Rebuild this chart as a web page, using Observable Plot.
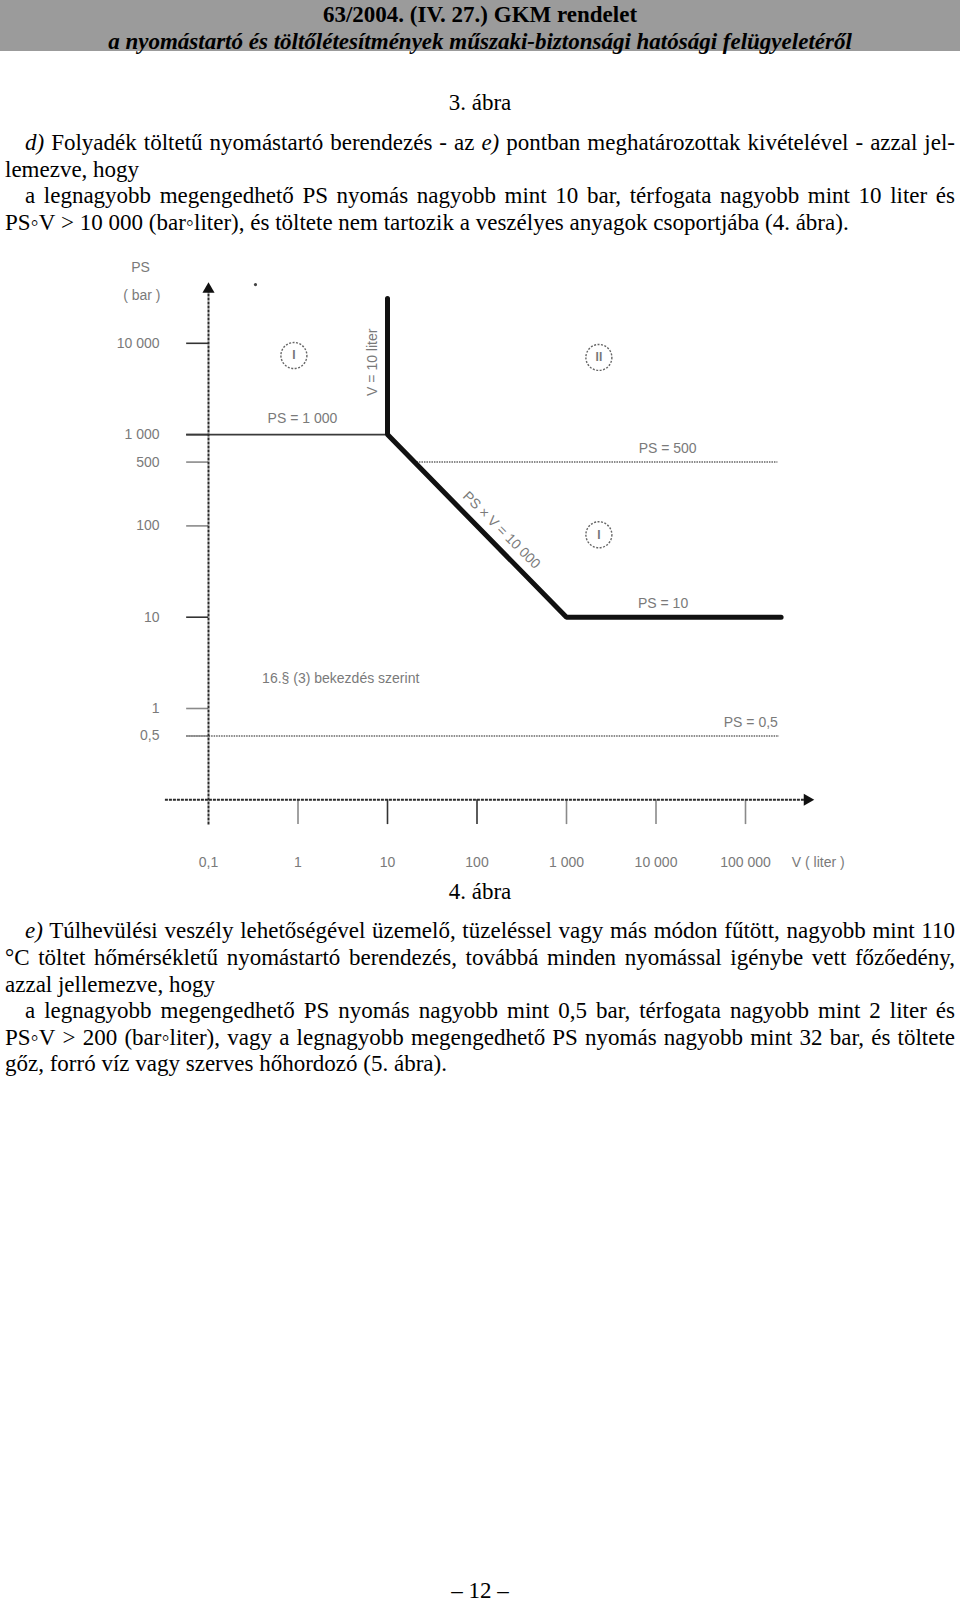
<!DOCTYPE html>
<html><head><meta charset="utf-8">
<script src="https://cdn.jsdelivr.net/npm/d3@7"></script>
<script src="https://cdn.jsdelivr.net/npm/@observablehq/plot@0.6"></script>
<style>
html,body{margin:0;padding:0;background:#fff}
body{width:960px;height:1601px;position:relative;overflow:hidden;font-family:"Liberation Serif","Times New Roman",serif;color:#000}
.band{position:absolute;left:0;top:0;width:960px;height:51px;background:#9b9b9b}
.h{position:absolute;left:0;width:960px;text-align:center;font-weight:bold;font-size:23px;line-height:26px;white-space:nowrap}
.c{position:absolute;left:0;width:960px;text-align:center;font-size:23px;line-height:26px}
.ln{position:absolute;left:5px;width:950px;font-size:23px;line-height:26px;white-space:nowrap;box-sizing:border-box}
.j{text-align:justify;text-align-last:justify}
.ind{padding-left:20px}
.nb{display:inline-block}
#chart{position:absolute;left:0;top:240px}
</style></head><body>
<div class="band"></div>
<div class="h" style="top:2px">63/2004. (IV. 27.) GKM rendelet</div>
<div class="h" style="top:29px;font-style:italic">a nyomástartó és töltőlétesítmények műszaki-biztonsági hatósági felügyeletéről</div>
<div class="c" style="top:90px">3. ábra</div>
<div class="ln j ind" style="top:130px"><i>d)</i> Folyadék töltetű nyomástartó berendezés - az <i>e)</i> pontban meghatározottak kivételével - azzal jel-</div>
<div class="ln" style="top:156.5px">lemezve, hogy</div>
<div class="ln j ind" style="top:183px">a legnagyobb megengedhető PS nyomás nagyobb mint 10 bar, térfogata nagyobb mint 10 liter és</div>
<div class="ln" style="top:209.6px"><span class="nb">PS◦V</span> &gt; 10 000 <span class="nb">(bar◦liter),</span> és töltete nem tartozik a veszélyes anyagok csoportjába (4. ábra).</div>
<div id="chart"></div>
<div class="c" style="top:878.6px">4. ábra</div>
<div class="ln j ind" style="top:918.4px"><i>e)</i> Túlhevülési veszély lehetőségével üzemelő, tüzeléssel vagy más módon fűtött, nagyobb mint 110</div>
<div class="ln j" style="top:945px">°C töltet hőmérsékletű nyomástartó berendezés, továbbá minden nyomással igénybe vett főzőedény,</div>
<div class="ln" style="top:971.5px">azzal jellemezve, hogy</div>
<div class="ln j ind" style="top:998px">a legnagyobb megengedhető PS nyomás nagyobb mint 0,5 bar, térfogata nagyobb mint 2 liter és</div>
<div class="ln j" style="top:1024.7px"><span class="nb">PS◦V</span> &gt; 200 <span class="nb">(bar◦liter),</span> vagy a legnagyobb megengedhető PS nyomás nagyobb mint 32 bar, és töltete</div>
<div class="ln" style="top:1051px">gőz, forró víz vagy szerves hőhordozó (5. ábra).</div>
<div class="c" style="top:1578px">– 12 –</div>
<script>
// ---- data (V in liter, PS in bar) ----
const xTicks = [0.1, 1, 10, 100, 1000, 10000, 100000];
const xTickLabels = ["0,1", "1", "10", "100", "1 000", "10 000", "100 000"];
const yTicks = [0.5, 1, 10, 100, 500, 1000, 10000];
const yTickLabels = ["0,5", "1", "10", "100", "500", "1 000", "10 000"];

// thick boundary: V = 10 liter, PS x V = 10 000, PS = 10
const boundaryV  = [10, 10, 1000, 250000];
const boundaryPS = [31000, 1000, 10, 10];

// reference levels
const levelPS    = [1000, 500, 0.5];
const levelFromV = [0.057, 20, 0.057];
const levelToV   = [10, 230000, 240000];

// axes extents
const xAxisV  = [0.033, 490000];
const yAxisPS = [0.053, 39000];

// category regions (circled numerals)
const regionLabels = ["I", "II", "I"];
const regionV  = [0.9, 2300, 2300];
const regionPS = [7350, 7000, 80];

// annotation texts
const annotationText = ["PS = 1 000", "PS = 500", "PS = 10", "16.§ (3) bekezdés szerint", "PS", "( bar )"];
const annotationV  = [1.12, 13500, 12000, 3, 0.0174, 0.018];
const annotationPS = [1500, 700, 14.2, 2.14, 67000, 33500];

// ---- build tables ----
const boundary = boundaryV.map((v, i) => ({v, ps: boundaryPS[i]}));
const levels = levelPS.map((ps, i) => ({ps, v1: levelFromV[i], v2: levelToV[i]}));
const regions = regionLabels.map((t, i) => ({t, v: regionV[i], ps: regionPS[i]}));
const annotations = annotationText.map((t, i) => ({t, v: annotationV[i], ps: annotationPS[i]}));

const TOP = 240;
const grey = "#7a7a7a";
const font = "Liberation Sans, Arial, sans-serif";

const chart = Plot.plot({
  width: 960,
  height: 650,
  marginLeft: 0, marginRight: 0, marginTop: 0, marginBottom: 0,
  x: {type: "log", domain: [0.1, 1e6], range: [208, 834.5], axis: null},
  y: {type: "log", domain: [0.1, 1e5], range: [799.3 - TOP, 251.5 - TOP], axis: null},
  style: {background: "transparent", fontFamily: font},
  marks: [
    // x ticks (below axis)
    Plot.ruleX(xTicks.slice(1), {x: d => d, y1: 0.1, y2: 0.0535,
      stroke: d => (d === 10 || d === 100) ? "#333" : "#8a8a8a",
      strokeWidth: 1.6, strokeDasharray: d => (d === 1 || d === 100000) ? null : "2,1"}),
    // y ticks (left of axis)
    Plot.ruleY(yTicks, {y: d => d, x1: 0.057, x2: 0.1,
      stroke: d => (d === 10 || d === 10000 || d === 1000) ? "#333" : "#8a8a8a",
      strokeWidth: 1.6, strokeDasharray: d => (d === 10000 || d === 500) ? "2,1" : null}),
    // PS = 1000 solid thin
    Plot.ruleY(levels.filter(d => d.ps === 1000), {y: "ps", x1: "v1", x2: "v2", stroke: "#3a3a3a", strokeWidth: 1.6}),
    // PS = 500 and 0.5 dotted grey
    Plot.ruleY(levels.filter(d => d.ps !== 1000), {y: "ps", x1: "v1", x2: "v2", stroke: "#8a8a8a", strokeWidth: 2, strokeDasharray: "1.5,1"}),
    // axes
    Plot.ruleY([0.1], {x1: xAxisV[0], x2: xAxisV[1], stroke: "#2a2a2a", strokeWidth: 2, strokeDasharray: "3,1"}),
    Plot.ruleX([0.1], {y1: yAxisPS[0], y2: yAxisPS[1], stroke: "#2a2a2a", strokeWidth: 2, strokeDasharray: "3,1"}),
    Plot.dot([0], {x: xAxisV[1], y: 0.1, symbol: "triangle", r: 4.5, rotate: 90, fill: "#111", stroke: "none"}),
    Plot.dot([0], {x: 0.1, y: yAxisPS[1], symbol: "triangle", r: 4.5, fill: "#111", stroke: "none"}),
    // thick boundary line
    Plot.line(boundary, {x: "v", y: "ps", stroke: "#111", strokeWidth: 5, strokeLinejoin: "miter", curve: "linear"}),
    // region circles
    Plot.dot(regions, {x: "v", y: "ps", r: 13, stroke: "#666", strokeWidth: 1.4, strokeDasharray: "2,1.5", fill: "none"}),
    Plot.text(regions, {x: "v", y: "ps", text: "t", fontSize: 12, fill: "#777", fontWeight: "bold"}),
    // annotations
    Plot.text(annotations, {x: "v", y: "ps", text: "t", fontSize: 14, fill: grey}),
    Plot.text(["PS = 0,5"], {x: 230000, y: 0.70, text: d => d, textAnchor: "end", fontSize: 14, fill: grey}),
    Plot.text(["V = 10 liter"], {x: 6.8, y: 6200, text: d => d, rotate: -90, fontSize: 14, fill: grey}),
    Plot.text(["PS × V = 10 000"], {x: 188, y: 90, text: d => d, rotate: 45, fontSize: 14, fill: grey}),
    // scan speck
    Plot.dot([0], {x: 0.335, y: 44000, r: 1.6, fill: "#444", stroke: "none"}),
    // tick labels
    Plot.text(xTicks, {x: d => d, y: 0.1, dy: 63, text: (d, i) => xTickLabels[i], fontSize: 14, fill: grey}),
    Plot.text(["V ( liter )"], {x: 650000, y: 0.1, dy: 63, text: d => d, fontSize: 14, fill: grey}),
    Plot.text(yTicks, {x: 0.1, dx: -49, y: d => d, text: (d, i) => yTickLabels[i], textAnchor: "end", fontSize: 14, fill: grey})
  ]
});
document.getElementById("chart").appendChild(chart);
</script>
</body></html>
